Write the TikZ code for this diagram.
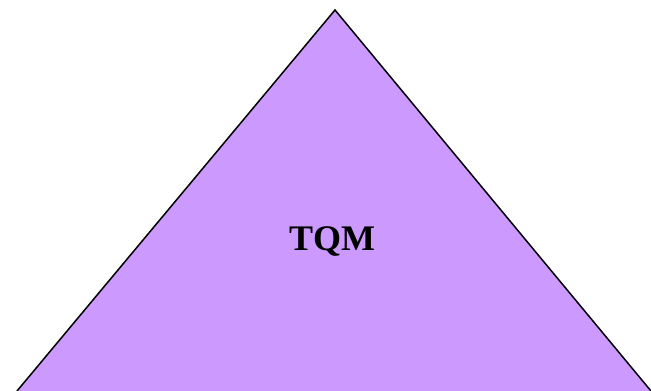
\documentclass[tikz,border=0pt]{standalone}
\usepackage{fontspec}
\setmainfont{Liberation Serif}
\begin{document}
\begin{tikzpicture}[x=1pt,y=-1pt,
  tri/.style={fill=tqmfill},
  edge/.style={draw=black,line width=1.5pt,line join=miter},
  lbl/.style={font=\bfseries\fontsize{36}{40}\selectfont,anchor=base,inner sep=0pt}]
\definecolor{tqmfill}{HTML}{CC99FF}
\useasboundingbox (0,0) rectangle (651,391);
\coordinate (apex) at (335,10);
\coordinate (bl) at (17,391);
\coordinate (br) at (651,391);
\fill[tri] (apex) -- (bl) -- (br) -- cycle;
\draw[edge] (bl) -- (apex) -- (br);
\node[lbl] (t) at (332,250) {TQM};
\end{tikzpicture}
\end{document}
